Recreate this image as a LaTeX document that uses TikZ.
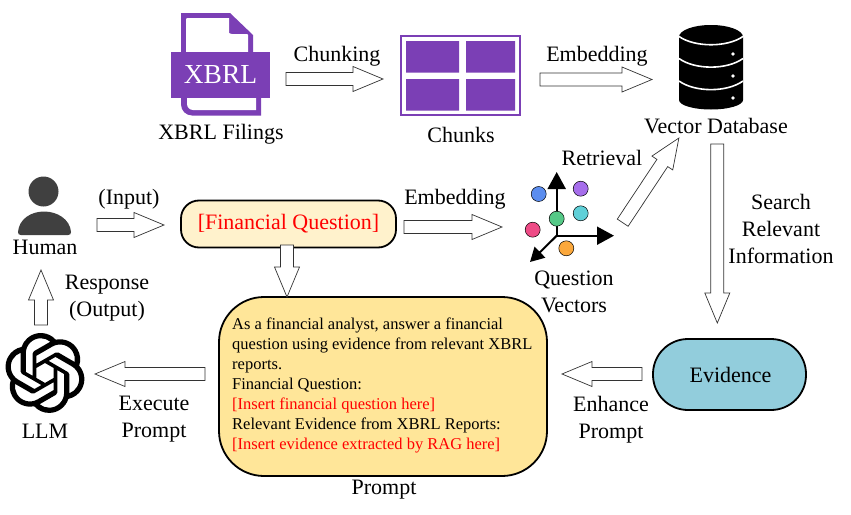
\documentclass[tikz,border=0pt]{standalone}
\usepackage{fontspec}
\setmainfont{Liberation Serif}
\usetikzlibrary{calc,arrows.meta,svg.path}
\definecolor{iconpurple}{HTML}{7B3FB5}
\definecolor{paleyellow}{HTML}{FFF2CC}
\definecolor{promptyellow}{HTML}{FFE699}
\definecolor{evidenceblue}{HTML}{92CDDC}
\definecolor{humangray}{HTML}{404040}
\tikzset{
 lbl/.style={font=\fontsize{22}{27}\selectfont,align=center,inner sep=0pt},
 hollowarrow/.style={draw=black!80,line width=0.7pt,fill=white},
 axisline/.style={line width=2pt,-{Triangle[length=17pt,width=18pt]}},
 axisdiag/.style={line width=2pt,-{Triangle[length=14pt,width=15pt]}},
 vecdot/.style={draw=black,line width=0.5pt,circle,minimum size=15pt,inner sep=0pt},
 panel/.style={draw=black,line width=1.8pt},
}
\newcommand\blockarrow[2]{%
 \coordinate (nk) at ($(#2)!30pt!(#1)$);
 \draw[hollowarrow] ($(#1)!6.5pt!90:(#2)$) -- ($(nk)!6.5pt!90:(#2)$) -- ($(nk)!12.5pt!90:(#2)$) -- (#2) -- ($(nk)!12.5pt!-90:(#2)$) -- ($(nk)!6.5pt!-90:(#2)$) -- ($(#1)!6.5pt!-90:(#2)$) -- cycle;}
\begin{document}
\begin{tikzpicture}[x=1pt,y=-1pt]
\useasboundingbox (0,0) rectangle (851,514);
% XBRL icon
\fill[iconpurple,rounded corners=0pt] (181,13) -- (230,13) -- (253,35) -- (253,53) -- (181,53) -- cycle;
\fill[white] (186,18) -- (229,18) -- (229,33) [rounded corners=1pt] -- (231,34) -- (248,34) -- (248,53) -- (186,53) -- cycle;
\fill[iconpurple] (181,90) -- (261,90) -- (261,115.5) -- (192,115.5) arc (90:180:11) -- cycle;
\fill[white] (187,90) -- (256,90) -- (256,110) -- (193,110) arc (90:180:6) -- cycle;
\node[fill=iconpurple,minimum width=99pt,minimum height=46pt,inner sep=0pt,text=white,font=\fontsize{27.5}{30}\selectfont] (xbrlicon) at (220.5,75) {XBRL};
% chunks
\node[draw=iconpurple,line width=2.5pt,minimum width=119pt,minimum height=79pt,inner sep=0pt] (chunksicon) at (460.5,75.5) {};
\fill[iconpurple] (406,41) rectangle (459,72.5) (466,41) rectangle (515,72.5) (406,79) rectangle (459,110.5) (466,79) rectangle (515,110.5);
% database
\fill[black] (679,37) arc (180:360:32 and 12) -- (743,100) arc (0:180:32 and 9.5) -- cycle;
\draw[white,line width=1.6pt] (679,36.5) .. controls (695,47.5) and (727,47.5) .. (743,36.5);
\draw[white,line width=1.6pt] (679,58.5) .. controls (695,70) and (727,70) .. (743,58.5);
\draw[white,line width=1.6pt] (679,81) .. controls (695,92.5) and (727,92.5) .. (743,81);
\fill[white] (733,54) circle (1.8) (733,76) circle (1.8) (733,98) circle (1.8);
\node[inner sep=0pt,minimum size=80pt] (dbicon) at (711,67) {};
% human
\fill[humangray] (43.5,191.5) circle (15);
\fill[humangray] (18,232) .. controls (19,219) and (31,211.5) .. (44,211.5) .. controls (57,211.5) and (70,219) .. (71,232) .. controls (71,234) and (70,235) .. (68,235) -- (21,235) .. controls (19,235) and (18,234) .. (18,232) -- cycle;
% LLM logo
\begin{scope}[shift={(5,333)},xscale=3.33,yscale=-3.33]
\fill[black,even odd rule] svg "M22.2819 9.8211 a5.9847 5.9847 0 0 0 -.5157 -4.9108 6.0462 6.0462 0 0 0 -6.5098 -2.9 A6.0651 6.0651 0 0 0 4.9807 4.1818 a5.9847 5.9847 0 0 0 -3.9977 2.9 6.0462 6.0462 0 0 0 .7427 7.0966 5.98 5.98 0 0 0 .511 4.9107 6.051 6.051 0 0 0 6.5146 2.9001 A5.9847 5.9847 0 0 0 13.2599 24 a6.0557 6.0557 0 0 0 5.7718 -4.2058 5.9894 5.9894 0 0 0 3.9977 -2.9001 6.0557 6.0557 0 0 0 -.7475 -7.0729 z
M13.2599 22.4292 a4.4755 4.4755 0 0 1 -2.8764 -1.0408 l.1419 -.0804 4.7783 -2.7582 a.7948 .7948 0 0 0 .3927 -.6813 v-6.7369 l2.02 1.1686 a.071 .071 0 0 1 .038 .052 v5.5826 a4.504 4.504 0 0 1 -4.4945 4.4944 z
M3.5992 18.3038 a4.4708 4.4708 0 0 1 -.5346 -3.0137 l.142 .0852 4.783 2.7582 a.7712 .7712 0 0 0 .7806 0 l5.8428 -3.3685 v2.3324 a.0804 .0804 0 0 1 -.0332 .0615 L9.74 19.9502 a4.4992 4.4992 0 0 1 -6.1408 -1.6464 z
M2.3408 7.8956 a4.485 4.485 0 0 1 2.3655 -1.9728 V11.6 a.7664 .7664 0 0 0 .3879 .6765 l5.8144 3.3543 -2.0201 1.1685 a.0757 .0757 0 0 1 -.071 0 l-4.8303 -2.7865 A4.504 4.504 0 0 1 2.3408 7.872 z
M18.9371 11.7514 L13.1038 8.364 15.1192 7.2 a.0757 .0757 0 0 1 .071 0 l4.8303 2.7913 a4.4944 4.4944 0 0 1 -.6765 8.1042 v-5.6772 a.79 .79 0 0 0 -.407 -.667 z
M20.9478 8.7283 l-.142 -.0852 -4.7735 -2.7818 a.7759 .7759 0 0 0 -.7854 0 L9.409 9.2297 V6.8974 a.0662 .0662 0 0 1 .0284 -.0615 l4.8303 -2.7866 a4.4992 4.4992 0 0 1 6.6802 4.66 z
M8.3065 12.863 l-2.02 -1.1638 a.0804 .0804 0 0 1 -.038 -.0567 V6.0742 a4.4992 4.4992 0 0 1 7.3757 -3.4537 l-.142 .0805 L8.704 5.459 a.7948 .7948 0 0 0 -.3927 .6813 z
M9.4041 10.4976 l2.602 -1.4998 2.6069 1.4998 v2.9994 l-2.5974 1.4997 -2.6067 -1.4997 z";
\end{scope}
% vectors
\coordinate (vo) at (556.7,235.7);
\coordinate (vup) at (556.7,172);
\coordinate (vright) at (614,235.7);
\coordinate (vdl) at (530,262);
\draw[axisline] (vo) -- (vup);
\draw[axisline] (vo) -- (vright);
\draw[axisdiag] (vo) -- (vdl);
\node[vecdot,fill={rgb,255:red,91;green,141;blue,239}] (d1) at (538.7,194) {};
\node[vecdot,fill={rgb,255:red,166;green,110;blue,235}] (d2) at (580.7,188.7) {};
\node[vecdot,fill={rgb,255:red,95;green,208;blue,216}] (d3) at (580.7,213.3) {};
\node[vecdot,fill={rgb,255:red,85;green,201;blue,135}] (d4) at (556.7,218.7) {};
\node[vecdot,fill={rgb,255:red,238;green,75;blue,134}] (d5) at (532.7,229.7) {};
\node[vecdot,fill={rgb,255:red,251;green,168;blue,60}] (d6) at (566.3,248.3) {};
% boxes
\node[panel,fill=paleyellow,rounded corners=18pt,minimum width=215pt,minimum height=47pt,inner sep=0pt,text=red,font=\fontsize{22}{27}\selectfont] (question) at (288.5,224) {[Financial Question]};
\node[panel,fill=promptyellow,rounded corners=45pt,minimum width=328pt,minimum height=179pt,inner sep=0pt] (prompt) at (383,386.5) {};
\node[anchor=north west,inner sep=0pt,align=left,font=\fontsize{16.5}{20}\selectfont] (prompttext) at (232,318) {As a financial analyst, answer a financial\\question using evidence from relevant XBRL\\reports.\\Financial Question:\\\textcolor{red}{[Insert financial question here]}\\Relevant Evidence from XBRL Reports:\\\textcolor{red}{[Insert evidence extracted by RAG here]}};
\node[panel,fill=evidenceblue,rounded corners=35pt,minimum width=153pt,minimum height=71pt,inner sep=0pt,font=\fontsize{22}{27}\selectfont] (evidence) at (729.5,374.5) {\hspace*{2pt}Evidence};
% labels
\node[lbl] (lchunking) at (337,56.5) {Chunking};
\node[lbl] (lembed1) at (597,56.5) {Embedding};
\node[lbl] (lfilings) at (221,134.5) {XBRL Filings};
\node[lbl] (lchunks) at (461,134.5) {Chunks};
\node[lbl] (lvdb) at (716,126.5) {Vector Database};
\node[lbl] (lretr) at (602,158) {Retrieval};
\node[lbl] (linput) at (129,199) {(Input)};
\node[lbl] (lembed2) at (455,199.5) {Embedding};
\node[lbl] (lhuman) at (45,247.5) {Human};
\node[lbl] (lresp) at (107,298.5) {Response\\(Output)};
\node[lbl] (lqv) at (574,292) {Question\\Vectors};
\node[lbl] (lsearch) at (781,229) {Search\\Relevant\\Information};
\node[lbl] (lexec) at (154,419.5) {Execute\\Prompt};
\node[lbl] (lenh) at (611,419.5) {Enhance\\Prompt};
\node[lbl] (lllm) at (45,431) {LLM};
\node[lbl] (lprompt) at (384,490) {Prompt};
% connector ends
\coordinate (a1s) at (286,79); \coordinate (a1e) at (383,79);
\coordinate (a2s) at (540,79.5); \coordinate (a2e) at (652,79.5);
\coordinate (a3s) at (622.7,222.7); \coordinate (a3e) at (678.9,138);
\coordinate (a4s) at (717.3,144); \coordinate (a4e) at (717.3,323);
\coordinate (a5s) at (97,225); \coordinate (a5e) at (164,225);
\coordinate (a6s) at (404,227); \coordinate (a6e) at (502,227);
\coordinate (a7s) at (287,245); \coordinate (a7e) at (287,297);
\coordinate (a8s) at (41,325); \coordinate (a8e) at (41,270);
\coordinate (a9s) at (205,374); \coordinate (a9e) at (95,374);
\coordinate (a10s) at (642,374); \coordinate (a10e) at (562,374);
\blockarrow{a1s}{a1e}
\blockarrow{a2s}{a2e}
\blockarrow{a3s}{a3e}
\blockarrow{a4s}{a4e}
\blockarrow{a5s}{a5e}
\blockarrow{a6s}{a6e}
\blockarrow{a7s}{a7e}
\blockarrow{a8s}{a8e}
\blockarrow{a9s}{a9e}
\blockarrow{a10s}{a10e}
\end{tikzpicture}
\end{document}
